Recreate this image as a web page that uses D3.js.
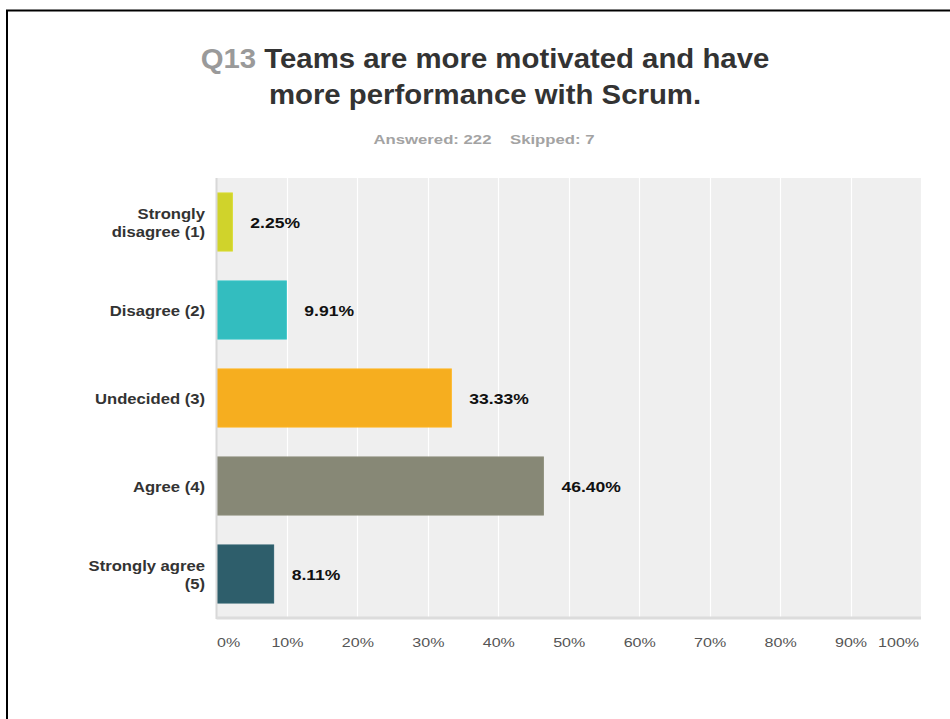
<!DOCTYPE html>
<html>
<head>
<meta charset="utf-8">
<script src="https://cdn.jsdelivr.net/npm/d3@7"></script>
<style>
  html, body { margin: 0; padding: 0; background: #fff; }
  svg { display: block; font-family: "Liberation Sans", Arial, Helvetica, sans-serif; }
</style>
</head>
<body>
<svg id="chart" width="950" height="719"></svg>
<script>
// Survey answers for Q13
const categories = [
  ["Strongly", "disagree (1)"],
  ["Disagree (2)"],
  ["Undecided (3)"],
  ["Agree (4)"],
  ["Strongly agree", "(5)"]
];
const percentages = [2.25, 9.91, 33.33, 46.40, 8.11];
const barColors = ["#d0d32b", "#33bdbf", "#f6ae1f", "#878876", "#2e5e6b"];
const tickValues = [0, 10, 20, 30, 40, 50, 60, 70, 80, 90, 100];
const answered = 222;
const skipped = 7;

// The survey renderer draws its lettering slightly wide
const wide = (sx) => `scale(${sx},1)`;

const svg = d3.select("#chart");

// Frame lines along the top and left edges
svg.append("line").attr("x1", 6).attr("x2", 950).attr("y1", 10.5).attr("y2", 10.5)
  .attr("stroke", "#000").attr("stroke-width", 2);
svg.append("line").attr("x1", 7).attr("x2", 7).attr("y1", 10).attr("y2", 719)
  .attr("stroke", "#000").attr("stroke-width", 2);

// Title
const title = svg.append("g").attr("text-anchor", "middle")
  .attr("font-weight", "bold").attr("font-size", 28.5);
const t1 = title.append("text").attr("transform", `translate(485,68) ${wide(1.03)}`);
t1.append("tspan").attr("fill", "#9a9a9a").text("Q13 ");
t1.append("tspan").attr("fill", "#333").text("Teams are more motivated and have");
title.append("text").attr("transform", `translate(485,104) ${wide(1.03)}`).attr("fill", "#333")
  .text("more performance with Scrum.");

svg.append("text").attr("transform", `translate(484,144) ${wide(1.24)}`).attr("text-anchor", "middle")
  .attr("font-size", 13.5).attr("font-weight", "bold").attr("fill", "#a3a3a3")
  .attr("xml:space", "preserve")
  .text(`Answered: ${answered}    Skipped: ${skipped}`);

// Plot area
const plotLeft = 216.5, plotRight = 921, plotTop = 178, plotBottom = 618;
const x = d3.scaleLinear().domain([0, 100]).range([plotLeft, plotRight]);
const y = d3.scaleBand().domain(d3.range(categories.length)).range([plotTop, plotBottom])
  .paddingInner(0.34).paddingOuter(0.17);

svg.append("rect").attr("x", plotLeft).attr("y", plotTop)
  .attr("width", plotRight - plotLeft).attr("height", plotBottom - plotTop)
  .attr("fill", "#efefef");

// Vertical gridlines
svg.append("g").selectAll("line").data(tickValues.slice(1)).join("line")
  .attr("x1", d => Math.round(x(d)) + 0.5).attr("x2", d => Math.round(x(d)) + 0.5)
  .attr("y1", plotTop).attr("y2", plotBottom)
  .attr("stroke", "#fff").attr("stroke-width", 1.2);

// Bars
svg.append("g").selectAll("rect").data(percentages).join("rect")
  .attr("x", x(0)).attr("y", (d, i) => y(i))
  .attr("width", d => x(d) - x(0)).attr("height", y.bandwidth())
  .attr("fill", (d, i) => barColors[i])
  .attr("stroke", (d, i) => d3.color(barColors[i]).brighter(0.12))
  .attr("stroke-width", 1);

// Axis lines
svg.append("line").attr("x1", plotLeft).attr("x2", plotLeft).attr("y1", plotTop).attr("y2", plotBottom + 1)
  .attr("stroke", "#d8d8d8").attr("stroke-width", 2);
svg.append("line").attr("x1", plotLeft).attr("x2", plotRight).attr("y1", plotBottom).attr("y2", plotBottom)
  .attr("stroke", "#dcdcdc").attr("stroke-width", 3);

// Value labels
svg.append("g").selectAll("text").data(percentages).join("text")
  .attr("transform", (d, i) => `translate(${x(d) + 18},${y(i) + y.bandwidth() / 2 + 5.5}) ${wide(1.17)}`)
  .attr("font-size", 15).attr("font-weight", "bold").attr("fill", "#111")
  .text(d => d.toFixed(2) + "%");

// Category labels
const catG = svg.append("g").attr("text-anchor", "end").attr("font-size", 15)
  .attr("font-weight", "bold").attr("fill", "#333");
categories.forEach((lines, i) => {
  const cy = y(i) + y.bandwidth() / 2;
  const lh = 18;
  const t = catG.append("text").attr("transform", `translate(205,${cy + 5.5}) ${wide(1.11)}`);
  lines.forEach((ln, j) => {
    t.append("tspan").attr("x", 0)
      .attr("y", (j - (lines.length - 1) / 2) * lh)
      .text(ln);
  });
});

// X axis tick labels
const xAxis = d3.axisBottom(x).tickValues(tickValues).tickSize(0).tickPadding(0)
  .tickFormat(d => d + "%");
const axG = svg.append("g").attr("transform", `translate(0,${plotBottom + 19})`).call(xAxis);
axG.select(".domain").remove();
axG.selectAll("text")
  .attr("font-family", "\"Liberation Sans\", Arial, sans-serif")
  .attr("font-size", 13.5).attr("fill", "#555")
  .attr("text-anchor", d => d === 0 ? "start" : (d === 100 ? "end" : "middle"))
  .attr("x", d => d === 100 ? -2 : 0)
  .attr("transform", wide(1.19));
</script>
</body>
</html>
